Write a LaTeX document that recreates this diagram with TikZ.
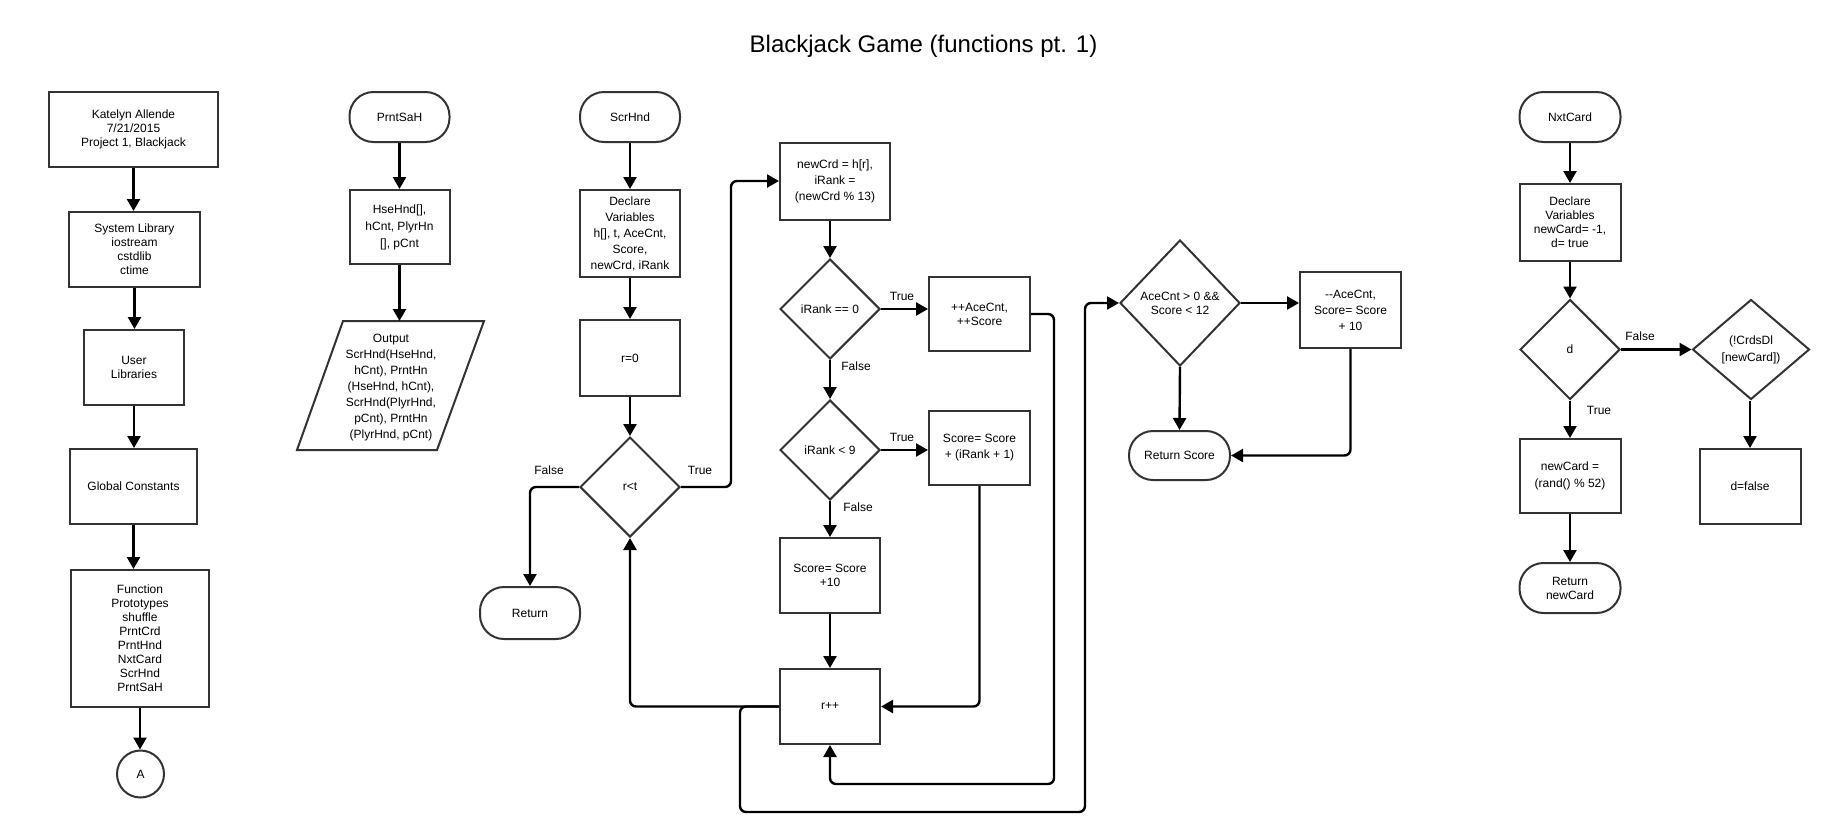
\documentclass[tikz,border=0pt]{standalone}
\usepackage{fontspec}
\setmainfont{Liberation Sans}
\usetikzlibrary{arrows.meta,shapes.geometric,calc}
\newcommand\fz[1]{\fontsize{12}{#1}\selectfont}
\begin{document}
\begin{tikzpicture}[x=1pt,y=-1pt,
  box/.style={draw=black!80, line width=2pt, rectangle, align=center, inner sep=0pt, font=\fz{14}},
  term/.style={box, rounded corners=24pt},
  dec/.style={draw=black!80, line width=2pt, diamond, align=center, inner sep=0pt, font=\fz{14}, minimum width=100pt, minimum height=100pt},
  arr/.style={line width=2.4pt, -{Triangle[length=12pt,width=13pt]}, rounded corners=6pt},
  lbl/.style={font=\fz{14}, inner sep=0pt},
]
\useasboundingbox (0,0) rectangle (1835,836);

\node[font=\fontsize{24}{28}\selectfont, anchor=base] (title) at (923.5,52) {Blackjack Game (functions pt. 1)};

% column 1
\node[box, minimum width=169pt, minimum height=75pt] (kat) at (133.5,129.5) {Katelyn Allende\\7/21/2015\\Project 1, Blackjack};
\node[box, minimum width=131pt, minimum height=75pt] (sys) at (134.5,249.5) {System Library\\iostream\\cstdlib\\ctime};
\node[box, minimum width=100pt, minimum height=75pt] (usr) at (134,367.5) {User\\Libraries};
\node[box, minimum width=127pt, minimum height=75pt] (glb) at (133.5,486.5) {Global Constants};
\node[box, minimum width=138pt, minimum height=137pt] (fun) at (140,638.5) {Function\\Prototypes\\shuffle\\PrntCrd\\PrntHnd\\NxtCard\\ScrHnd\\PrntSaH};
\node[draw=black!80, circle, line width=2pt, minimum size=47pt, inner sep=0pt, font=\fz{14}] (A) at (140.5,774) {A};
\draw[arr] (kat.south) -- (kat.south |- sys.north);
\draw[arr] (sys.south) -- (sys.south |- usr.north);
\draw[arr] (usr.south) -- (usr.south |- glb.north);
\draw[arr] (glb.south) -- (glb.south |- fun.north);
\draw[arr] (fun.south) -- (fun.south |- A.north);

% column 2
\node[term, minimum width=100pt, minimum height=50pt] (psah) at (399.5,117) {PrntSaH};
\node[box, minimum width=100pt, minimum height=74pt, font=\fz{17}] (hse) at (399.5,227) {HseHnd[],\\hCnt, PlyrHn\\{[}], pCnt};
\draw[line width=2pt, draw=black!80] (343,321) -- (484,321) -- (437,450) -- (297,450) -- cycle;
\coordinate (outtop) at (399.5,321);
\node[lbl, align=center, font=\fz{16}] (out) at (391,388) {Output\\ScrHnd(HseHnd,\\hCnt), PrntHn\\(HseHnd, hCnt),\\ScrHnd(PlyrHnd,\\pCnt), PrntHn\\(PlyrHnd, pCnt)};
\draw[arr] (psah.south) -- (hse.north);
\draw[arr] (hse.south) -- (outtop);

% column 3
\node[term, minimum width=100pt, minimum height=50pt] (scr) at (630,117) {ScrHnd};
\node[box, minimum width=100pt, minimum height=87pt, font=\fz{16}] (decl) at (630,233.5) {Declare\\Variables\\h[], t, AceCnt,\\Score,\\newCrd, iRank};
\node[box, minimum width=100pt, minimum height=76pt] (r0) at (630,358) {r=0};
\node[dec] (rlt) at (630,487) {r<t};
\node[term, minimum width=100pt, minimum height=52pt] (ret) at (530,613) {Return};
\draw[arr] (scr.south) -- (decl.north);
\draw[arr] (decl.south) -- (r0.north);
\draw[arr] (r0.south) -- (rlt.north);
\draw[arr] (rlt.west) -| (ret.north);
\node[lbl] (lf1) at (549,470) {False};

% column 4
\node[box, minimum width=110pt, minimum height=77pt, font=\fz{16}] (ncrd) at (835,181) {newCrd = h[r],\\iRank =\\(newCrd \% 13)};
\node[dec] (d0) at (830,309) {iRank == 0};
\node[box, minimum width=101pt, minimum height=74pt] (ace) at (979.5,314) {++AceCnt,\\++Score};
\node[dec] (d9) at (830,450) {iRank < 9};
\node[box, minimum width=101pt, minimum height=74pt, font=\fz{16}] (sir) at (979.5,448) {Score= Score\\+ (iRank + 1)};
\node[box, minimum width=100pt, minimum height=75pt] (s10) at (830,575.5) {Score= Score\\+10};
\node[box, minimum width=100pt, minimum height=75pt] (rpp) at (830,706.5) {r++};

\draw[arr] (rlt.east) -- ++(50,0) |- (ncrd.west);
\node[lbl] (lt1) at (700,470) {True};
\draw[arr] (d0.north |- ncrd.south) -- (d0.north);
\draw[arr] (d0.east) -- (d0.east -| ace.west);
\node[lbl] (lt2) at (902,296) {True};
\draw[arr] (d0.south) -- (d9.north);
\node[lbl] (lf2) at (856,366) {False};
\draw[arr] (d9.east) -- (d9.east -| sir.west);
\node[lbl] (lt3) at (902,437) {True};
\draw[arr] (d9.south) -- (s10.north);
\node[lbl] (lf3) at (858,507) {False};
\draw[arr] (s10.south) -- (rpp.north);
\draw[arr] (sir.south) |- (rpp.east);
\draw[arr] (ace.east) -- (1054,314) -- (1054,784) -| (rpp.south);
\draw[arr] (rpp.west) -| (rlt.south);

% column 5
\node[dec, minimum width=120pt, minimum height=126pt] (ac) at (1180,303) {AceCnt > 0 \&\&\\Score < 12};
\node[box, minimum width=101pt, minimum height=76pt, font=\fz{16}] (dace) at (1350.5,310) {-{}-AceCnt,\\Score= Score\\+ 10};
\node[term, minimum width=101pt, minimum height=49pt] (rs) at (1179.5,455.5) {Return Score};
\draw[arr] (rpp.west) -- (740,706.5) -- (740,812) -- (1085,812) -- (1085,303) -- (ac.west);
\draw[arr] (ac.east) -- (ac.east -| dace.west);
\draw[arr] (ac.south) -- (rs.north);
\draw[arr] (dace.south) |- (rs.east);

% column 6
\node[term, minimum width=101pt, minimum height=50pt] (nxt) at (1570,117) {NxtCard};
\node[box, minimum width=101pt, minimum height=77pt] (decl2) at (1570,222.5) {Declare\\Variables\\newCard= -1,\\d= true};
\node[dec] (dd) at (1570,349.5) {d};
\node[dec, minimum width=117pt, font=\fz{17}] (crd) at (1751,349.5) {(!CrdsDl\\{[}newCard])};
\node[box, minimum width=101pt, minimum height=74pt, font=\fz{17}] (ncard) at (1570,476) {newCard =\\(rand() \% 52)};
\node[term, minimum width=101pt, minimum height=50pt] (rn) at (1570,588) {Return\\newCard};
\node[box, minimum width=101pt, minimum height=75pt] (df) at (1750,486.5) {d=false};
\draw[arr] (nxt.south) -- (decl2.north);
\draw[arr] (decl2.south) -- (dd.north);
\draw[arr] (dd.east) -- (crd.west);
\node[lbl] (lf4) at (1640,336) {False};
\draw[arr] (dd.south) -- (ncard.north);
\node[lbl] (lt4) at (1599,410) {True};
\draw[arr] (ncard.south) -- (rn.north);
\draw[arr] (crd.south -| df.north) -- (df.north);
\end{tikzpicture}
\end{document}
